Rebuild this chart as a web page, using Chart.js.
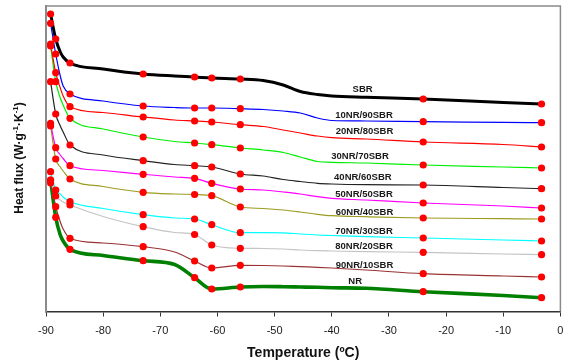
<!DOCTYPE html>
<html><head><meta charset="utf-8">
<script src="https://cdn.jsdelivr.net/npm/chart.js@4.4.1/dist/chart.umd.min.js"></script>
<style>html,body{margin:0;padding:0;background:#fff}#wrap{width:564px;height:362px}</style>
</head><body><div id="wrap"><canvas id="c" width="564" height="362"></canvas></div>
<script>
// Temperature grid (°C)
const temperature = [-89.2, -88.3, -87.5, -87, -85.8, -80, -73, -67.5, -64, -61, -56, -52, -48.5, -45.5, -42.5, -40, -34, -24, -10, -3.3];
// indices of the points drawn with red markers
const markerIndex = [0, 1, 4, 6, 8, 9, 10, 17, 19];
// Heat flux (arbitrary units, curves shifted vertically)
const sbr    = [297.5, 272.5, 259.5, 254.5, 248.5, 242.5, 237.5, 235.5, 234.5, 233.5, 232.5, 231, 226.5, 220, 217, 215.5, 214.2, 212.5, 209, 207.5];
const nr10   = [288.2, 257.5, 235.5, 225.5, 217.5, 210.5, 205.5, 204, 203.5, 203.5, 202.8, 202, 200.5, 198.5, 193.5, 191, 190.5, 189.8, 189.2, 188.8];
const nr20   = [267.5, 238.8, 223.5, 215.5, 204.8, 199, 194.5, 191.5, 190.5, 189.5, 186.8, 185, 181.5, 178.5, 175.5, 173.8, 172.5, 169.5, 167, 164.5];
const nr30   = [265.5, 229.8, 213.5, 206.5, 193.2, 182.5, 174.5, 170, 168.5, 166.8, 163.5, 161.5, 159, 154.5, 150, 149.2, 148.5, 146.5, 144.5, 143.5];
const nr40   = [229.8, 197.5, 185.5, 179.5, 166.5, 156.5, 150.8, 147, 145.8, 144.5, 137.5, 135.5, 132, 130, 128.2, 127.5, 126.8, 126.5, 124, 122.8];
const nr50   = [188.2, 163.8, 156.5, 153, 145.8, 141, 137.2, 134.5, 133.2, 128.2, 122.5, 121.5, 119.5, 117.5, 114.8, 113.2, 111.5, 108.5, 105.5, 103.5];
const nr60   = [185.5, 152.5, 144.5, 140.5, 132.5, 125, 119.2, 117.5, 117, 115.8, 104.5, 103, 101.5, 99.5, 97.2, 95.8, 94.8, 93.5, 92.8, 92.5];
const nr70   = [139.8, 121.5, 117.5, 114.5, 109.8, 103, 96.8, 93.5, 92.5, 86.8, 78.8, 78.8, 78.7, 77.5, 76.5, 76, 74.8, 73.5, 71.5, 70.5];
const nr80   = [131.5, 115.5, 111.5, 109.5, 106.5, 95, 84.8, 79, 77, 66.5, 63.2, 63, 62.5, 61.5, 60.8, 60.5, 59.8, 59.2, 57.5, 56.8];
const nr90   = [128.5, 104.8, 89.5, 82.5, 73.2, 68.5, 64.8, 59.5, 50.5, 43.5, 46.2, 46, 45.5, 44.8, 44.2, 43.5, 41.5, 37.8, 35.5, 34.5];
const nr     = [131.5, 94.2, 76.5, 70.5, 62.2, 56, 50.8, 47, 33.8, 22.5, 24.5, 25, 24.8, 24.5, 24.2, 23.8, 23.2, 19.8, 16, 13.8];

const seriesNames = ['SBR', '10NR/90SBR', '20NR/80SBR', '30NR/70SBR', '40NR/60SBR', '50NR/50SBR', '60NR/40SBR', '70NR/30SBR', '80NR/20SBR', '90NR/10SBR', 'NR'];
const seriesValues = [sbr, nr10, nr20, nr30, nr40, nr50, nr60, nr70, nr80, nr90, nr];
const xTickValues = [-90, -80, -70, -60, -50, -40, -30, -20, -10, 0];

// styling
const colors = ['#000000', '#0000ff', '#ff0000', '#00ee00', '#222222', '#ff00ff', '#9c9c22', '#00ffff', '#c4c4c4', '#993333', '#008000'];
const widths = [3, 1.2, 1.2, 1.2, 1.2, 1.2, 1.2, 1.2, 1.2, 1.2, 3.6];
// label anchor (temperature, heat flux) and alignment
const labelPos = [[-34.6, 222.2, 'center'], [-39.4, 196.5, 'left'], [-39.3, 179.8, 'left'], [-40.1, 154.8, 'left'], [-39.6, 134.2, 'left'], [-39.4, 117.5, 'left'], [-39.3, 99.2, 'left'], [-39.4, 79.8, 'left'], [-39.4, 64.8, 'left'], [-39.3, 46.5, 'left'], [-35.9, 29.8, 'center']];

const FONT = "'Liberation Sans', Arial, Helvetica, sans-serif";
const datasets = [];
seriesValues.forEach((vals, i) => {
  datasets.push({
    label: seriesNames[i] + ' markers',
    data: markerIndex.map(k => ({x: temperature[k], y: vals[k]})),
    showLine: false, pointRadius: 3.6, pointHoverRadius: 3.6,
    pointBackgroundColor: '#ff0000', pointBorderWidth: 0, order: 0
  });
  datasets.push({
    label: seriesNames[i],
    data: temperature.map((t, k) => ({x: t, y: vals[k]})),
    borderColor: colors[i], borderWidth: widths[i], pointRadius: 0,
    cubicInterpolationMode: 'monotone', fill: false, order: 1
  });
});

const framePlugin = {
  id: 'frame',
  afterDraw(chart) {
    const {ctx, chartArea: a, scales} = chart;
    ctx.save();
    ctx.strokeStyle = '#8a8a8a'; ctx.lineWidth = 1.5;
    ctx.beginPath(); ctx.moveTo(a.left, a.top); ctx.lineTo(a.right, a.top); ctx.lineTo(a.right, a.bottom); ctx.stroke();
    // curve labels
    ctx.fillStyle = '#1a1a1a'; ctx.font = 'bold 9.5px ' + FONT; ctx.textBaseline = 'middle';
    labelPos.forEach((p, i) => {
      ctx.textAlign = p[2];
      ctx.fillText(seriesNames[i], scales.x.getPixelForValue(p[0]), scales.y.getPixelForValue(p[1]));
    });
    // y axis title with superscripts
    const parts = [['Heat flux (W\u00b7g', 0], ['-1', 1], ['\u00b7K', 0], ['-1', 1], [')', 0]];
    const big = 'bold 12px ' + FONT, small = 'bold 8px ' + FONT;
    let total = 0;
    parts.forEach(p => { ctx.font = p[1] ? small : big; total += ctx.measureText(p[0]).width; });
    ctx.translate(18, 158); ctx.rotate(-Math.PI / 2);
    ctx.textAlign = 'left'; ctx.textBaseline = 'alphabetic'; ctx.fillStyle = '#111';
    let x = -total / 2;
    parts.forEach(p => {
      ctx.font = p[1] ? small : big;
      ctx.fillText(p[0], x, p[1] ? 0 : 4.5);
      x += ctx.measureText(p[0]).width;
    });
    ctx.restore();
  }
};

new Chart(document.getElementById('c'), {
  type: 'line',
  data: {datasets},
  plugins: [framePlugin],
  options: {
    responsive: false, animation: false, devicePixelRatio: 1,
    layout: {padding: {top: 6, right: 2, left: 0, bottom: 0}},
    plugins: {legend: {display: false}, tooltip: {enabled: false}},
    scales: {
      x: {
        type: 'linear', min: -90, max: 0,
        afterBuildTicks: s => { s.ticks = xTickValues.map(v => ({value: v})); },
        afterFit: s => { s.height = 50.5; s.paddingLeft = 0; s.paddingRight = 0; },
        ticks: {color: '#1a1a1a', font: {family: FONT, size: 11}, padding: 8, maxRotation: 0, autoSkip: false},
        grid: {drawOnChartArea: false, drawTicks: true, tickLength: 5, color: '#333', lineWidth: 1},
        border: {display: true, color: '#333', width: 1.5},
        title: {display: true, text: 'Temperature (\u00baC)', color: '#111', font: {family: FONT, size: 14, weight: 'bold'}, padding: {top: 0, bottom: 0}}
      },
      y: {
        type: 'linear', min: 0, max: 305.5,
        afterFit: s => { s.width = 46; s.paddingTop = 0; s.paddingBottom = 0; },
        ticks: {display: false},
        grid: {display: false, drawTicks: false},
        border: {display: true, color: '#8a8a8a', width: 2}
      }
    }
  }
});
</script></body></html>
